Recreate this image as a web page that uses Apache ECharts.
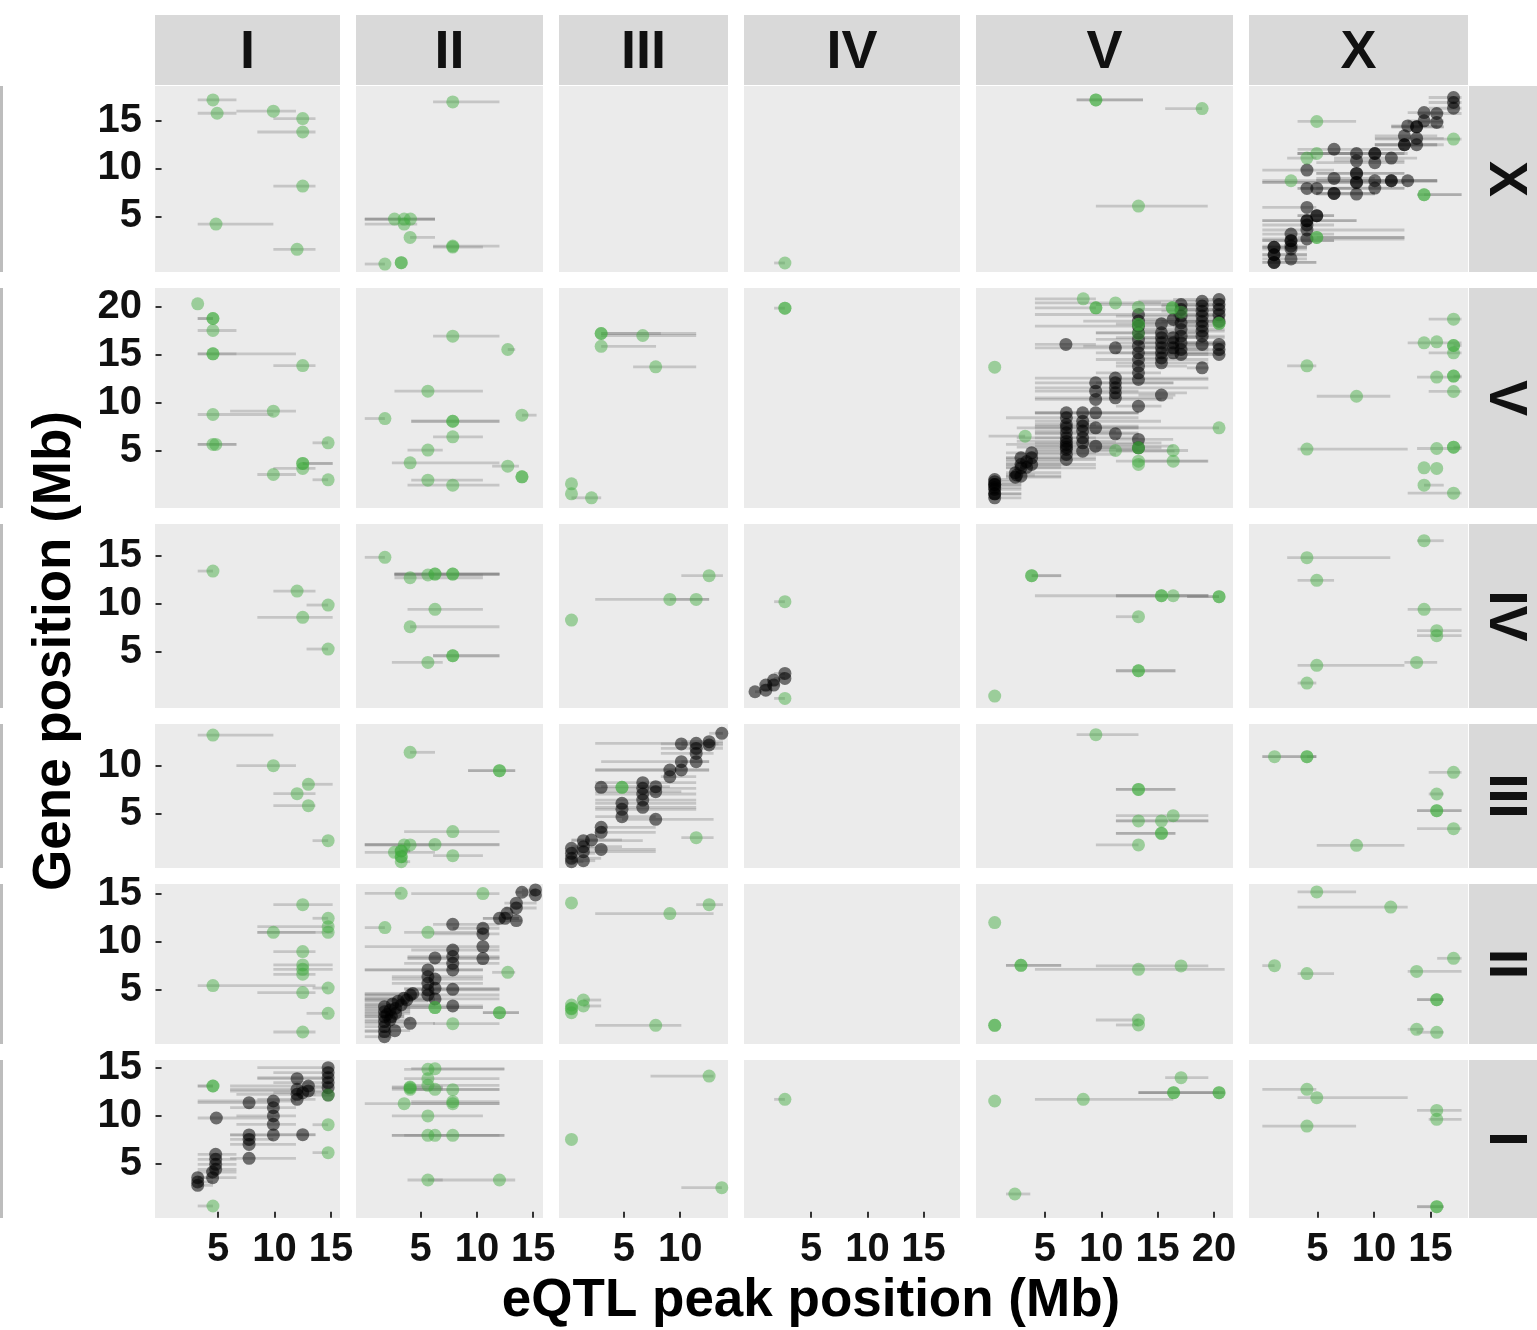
<!DOCTYPE html>
<html>
<head>
<meta charset="utf-8">
<script src="https://cdn.jsdelivr.net/npm/echarts@6/dist/echarts.min.js"></script>
<style>
html,body{margin:0;padding:0;background:#fff;}
#chart{width:1537px;height:1330px;}
</style>
</head>
<body>
<div id="chart"></div>
<script>
// ---------- categories & ticks ----------
const colCats = ['I','II','III','IV','V','X'];   // eQTL peak chromosome (columns)
const rowCats = ['X','V','IV','III','II','I'];   // gene chromosome (rows)
const colTicks = [[5,10,15],[5,10,15],[5,10],[5,10,15],[5,10,15,20],[5,10,15]];
const rowTicks = [[5,10,15],[5,10,15,20],[5,10,15],[5,10],[5,10,15],[5,10,15]];
const colRange = [[-0.58,15.8],[-0.75,15.87],[-0.78,14.25],[-0.98,18.24],[-1.12,21.69],[-1.06,18.33]];
const rowRange = [[-0.8,18.6],[-0.94,21.98],[-0.86,18.3],[-0.66,14.34],[-0.66,16.0],[-0.66,15.8]];

// ---------- data: [peak Mb, gene Mb, CI low, CI high] ----------
// trans (green)
const g_X_I = [[4.55,17.15,3.2,6.63],[4.92,15.76,3.2,6.63],[9.9,15.97,6.63,11.9],[12.5,15.2,9.9,13.63],[12.5,13.8,8.48,13.63],[12.5,8.16,9.9,13.63],[4.82,4.2,3.2,9.9],[12.0,1.56,9.9,13.63]];
const g_X_II = [[7.85,16.94,6.1,12.0],[2.67,4.72,0.03,6.27],[3.53,4.72,0.03,6.27],[4.09,4.72,0.03,6.27],[3.53,4.2,0.03,4.69],[4.06,2.81,4.06,6.27],[7.85,1.9,6.1,12.0],[7.85,1.8,6.1,10.53],[1.82,0.03,0.03,1.82],[3.27,0.17,3.27,3.27],[3.27,0.17,3.27,3.27]];
const g_X_IV = [[2.66,0.14,1.7,2.66]];
const g_X_V = [[9.52,17.15,7.81,13.7],[9.52,17.15,7.81,13.7],[18.95,16.25,15.67,18.95],[13.3,6.08,9.52,19.45]];
const g_X_X = [[4.94,14.9,3.24,8.42],[17.05,13.06,10.1,17.76],[4.94,11.56,3.24,8.42],[4.07,11.08,2.32,4.9],[2.66,8.72,0.12,4.9],[14.44,7.26,13.82,17.76],[14.44,7.26,14.44,17.76],[4.94,2.81,3.24,12.7],[4.94,2.81,4.94,12.7]];

const g_V_I = [[3.2,20.33,3.2,3.2],[4.55,18.8,3.2,4.55],[4.55,18.8,3.2,4.55],[4.55,17.55,3.2,6.63],[4.55,15.12,3.2,11.9],[4.55,15.12,3.2,6.63],[12.5,13.9,9.9,13.63],[9.9,9.15,6.07,11.9],[4.55,8.8,3.2,9.9],[4.55,5.68,3.2,6.63],[4.8,5.68,3.2,6.63],[14.75,5.85,13.37,14.75],[12.5,3.7,12.5,15.15],[12.5,3.7,12.5,15.15],[12.5,3.18,9.9,13.63],[9.9,2.55,8.48,11.9],[14.75,2.0,13.37,14.75]];
const g_V_II = [[7.85,16.96,6.1,12.0],[12.74,15.57,12.74,13.4],[5.64,11.23,2.67,10.53],[1.82,8.38,0.03,1.82],[7.85,8.1,4.16,12.0],[7.85,8.1,4.16,12.0],[14.0,8.73,14.0,15.3],[7.85,6.47,6.1,10.53],[5.64,5.09,3.83,6.96],[4.06,3.77,2.44,12.0],[12.74,3.42,11.35,13.73],[14.0,2.31,14.0,14.0],[14.0,2.31,14.0,14.0],[5.64,1.96,4.16,10.53],[7.85,1.44,3.83,12.0]];
const g_V_III = [[2.97,17.24,2.97,8.28],[2.97,17.24,2.97,11.42],[6.67,17.03,2.97,11.42],[2.97,15.9,2.97,7.85],[7.82,13.77,5.81,11.42],[0.33,1.58,0.33,0.33],[0.33,0.54,0.33,0.33],[2.11,0.12,0.33,2.97]];
const g_V_IV = [[2.66,19.88,1.7,2.66],[2.66,19.88,2.66,2.66]];
const g_V_V = [[8.4,20.85,4.11,9.52],[11.26,20.43,4.11,15.3],[9.52,19.91,4.11,9.52],[9.52,19.91,9.52,9.52],[13.3,19.98,13.3,13.3],[16.3,19.91,16.3,16.3],[16.3,19.91,16.3,16.3],[17.08,19.46,17.08,17.08],[13.3,18.2,13.3,13.3],[13.3,18.2,13.3,13.3],[13.3,17.2,13.3,13.3],[20.45,18.3,20.45,20.45],[20.45,18.3,20.45,20.45],[0.54,13.73,0.54,0.54],[20.45,7.41,11.3,20.45],[3.24,6.54,0.0,3.24],[11.26,5.05,11.26,11.26],[13.3,5.33,13.3,13.3],[13.3,5.33,13.3,13.3],[16.38,5.05,11.3,17.7],[13.3,3.94,11.3,19.45],[13.3,3.6,13.3,13.3],[16.38,3.94,13.3,19.5]];
const g_V_X = [[17.05,18.73,14.85,17.76],[14.44,16.27,12.99,17.76],[15.56,16.37,15.56,15.56],[17.05,15.99,17.05,17.05],[17.05,15.99,17.05,17.76],[17.05,15.23,14.85,17.76],[4.07,13.87,2.32,4.9],[15.56,12.7,13.82,17.76],[17.05,12.8,17.05,17.05],[17.05,12.8,17.05,17.76],[17.05,11.2,14.85,17.76],[8.46,10.7,4.94,11.45],[4.07,5.2,3.24,12.99],[15.56,5.26,13.82,17.76],[17.05,5.4,17.05,17.05],[17.05,5.4,17.05,17.76],[14.44,3.25,14.44,14.44],[15.56,3.18,15.56,15.56],[14.44,1.44,14.44,16.18],[17.05,0.6,12.99,17.76]];

const g_IV_I = [[4.55,13.4,3.2,4.55],[12.0,11.32,9.9,13.63],[14.75,9.86,12.84,14.75],[12.5,8.58,8.48,15.15],[14.75,5.28,12.84,14.75]];
const g_IV_II = [[1.82,14.83,0.03,1.82],[4.06,12.7,2.67,10.53],[5.64,12.99,2.67,10.53],[6.27,13.09,2.67,12.0],[6.27,13.09,2.67,12.0],[7.85,13.09,2.67,12.0],[7.85,13.09,2.67,12.0],[6.27,9.41,3.83,10.53],[4.06,7.6,4.06,12.0],[7.85,4.58,6.1,12.0],[7.85,4.58,6.1,12.0],[5.64,3.89,2.44,6.96]];
const g_IV_III = [[12.57,12.92,10.1,13.8],[9.08,10.45,2.44,12.57],[11.42,10.45,9.08,12.57],[0.33,8.3,0.33,0.33]];
const g_IV_IV = [[2.66,10.21,1.7,2.66],[2.66,0.14,1.7,2.66]];
const g_IV_V = [[3.82,12.92,3.82,6.44],[3.82,12.92,3.82,6.44],[15.34,10.83,4.11,19.5],[15.34,10.83,11.3,19.5],[16.38,10.83,11.3,19.5],[20.45,10.73,17.62,20.45],[20.45,10.73,17.62,20.45],[13.3,8.65,11.3,13.3],[13.3,3.02,11.3,16.58],[13.3,3.02,11.3,16.58],[0.54,0.38,0.54,0.54]];
const g_IV_X = [[14.44,16.56,13.82,16.18],[4.07,14.79,2.32,11.45],[4.94,12.43,3.24,6.47],[14.44,9.41,12.99,17.76],[15.56,7.19,13.82,17.76],[15.56,6.67,13.82,17.76],[13.78,3.89,12.7,15.6],[4.94,3.58,3.24,12.7],[4.07,1.74,3.24,4.9]];

const g_III_I = [[4.55,13.19,3.2,9.9],[9.9,10.0,6.63,11.9],[13.0,8.06,12.5,15.15],[12.0,7.08,9.9,13.63],[13.0,5.83,9.9,13.63],[14.75,2.19,13.37,14.75]];
const g_III_II = [[4.06,11.39,4.06,6.27],[12.0,9.48,9.21,13.4],[12.0,9.48,9.21,13.4],[7.85,3.13,3.53,12.0],[3.53,1.74,0.03,12.0],[4.06,1.74,0.03,6.27],[6.27,1.8,0.03,12.0],[2.67,0.97,0.03,6.27],[3.27,1.11,3.27,4.06],[3.27,1.11,3.27,4.06],[3.27,0.52,3.27,3.27],[3.27,0.52,3.27,3.27],[3.27,0.0,3.27,4.06],[7.85,0.62,6.1,10.53]];
const g_III_III = [[4.82,7.74,4.82,4.82],[4.82,7.74,4.82,4.82],[11.42,2.5,10.1,12.97]];
const g_III_V = [[9.52,13.23,7.81,13.3],[13.3,7.53,11.3,16.58],[13.3,7.53,11.3,16.58],[16.38,4.79,11.3,19.5],[13.3,4.24,11.3,19.5],[15.34,4.24,11.3,19.5],[15.34,2.95,11.3,16.58],[15.34,2.95,11.3,16.58],[13.3,1.74,9.52,13.3]];
const g_III_X = [[1.2,10.94,0.12,4.9],[4.07,10.94,0.12,4.9],[4.07,10.94,4.07,4.9],[17.05,9.31,14.85,17.76],[15.56,7.05,14.85,16.18],[15.56,5.31,13.82,17.76],[15.56,5.31,13.82,17.76],[17.05,3.44,13.82,17.76],[8.46,1.7,4.94,12.7]];

const g_II_I = [[12.5,13.85,9.9,15.15],[14.75,12.43,13.37,14.75],[14.75,11.56,8.48,15.15],[14.75,10.97,8.48,15.15],[9.9,10.97,8.48,13.63],[12.5,8.96,9.9,13.63],[12.5,7.57,9.9,15.15],[12.5,7.12,9.9,15.15],[12.5,6.6,9.9,13.63],[4.55,5.42,3.2,13.63],[14.75,5.17,13.37,14.75],[12.5,4.69,8.48,13.63],[14.75,2.53,12.84,14.75],[12.5,0.59,9.9,13.63]];
const g_II_II = [[3.27,15.03,0.03,3.27],[10.53,15.0,4.16,12.0],[1.82,11.46,0.03,1.82],[5.64,10.97,3.53,10.53],[12.74,6.8,11.35,13.4],[6.27,3.13,3.53,10.53],[6.27,3.13,3.53,10.53],[12.0,2.6,10.53,13.73],[12.0,2.6,10.53,13.73],[7.85,1.46,6.1,12.0]];
const g_II_III = [[0.33,14.03,0.33,0.33],[12.57,13.85,11.42,13.8],[9.08,12.92,2.44,12.97],[1.39,3.92,1.39,2.97],[1.39,3.3,1.39,2.97],[0.33,3.4,0.33,0.33],[0.33,3.06,0.33,0.33],[0.33,2.6,0.33,0.33],[0.33,3.0,0.33,0.33],[7.82,1.28,2.44,10.1]];
const g_II_V = [[0.54,11.98,0.54,0.54],[2.87,7.53,1.54,6.44],[2.87,7.53,1.54,6.44],[13.3,7.12,4.11,20.95],[17.08,7.47,9.52,19.5],[13.3,1.84,9.52,13.3],[13.3,1.32,11.3,13.3],[0.54,1.28,0.54,0.54],[0.54,1.28,0.54,0.54]];
const g_II_X = [[4.94,15.17,3.24,8.42],[11.49,13.6,3.24,12.99],[17.05,8.26,15.6,17.76],[1.2,7.5,0.12,1.2],[4.07,6.67,3.24,6.47],[13.78,6.9,12.99,17.76],[15.56,3.96,13.82,16.18],[15.56,3.96,13.82,16.18],[13.78,0.87,12.99,14.44],[15.56,0.56,13.78,16.18]];

const g_I_I = [[4.55,13.09,3.2,4.55],[4.55,13.09,3.2,4.55],[14.75,9.06,13.37,14.75],[14.75,6.15,13.37,14.75],[4.55,0.59,3.2,4.55],[14.75,12.15,14.75,14.75]];
const g_I_II = [[5.64,14.83,3.53,12.44],[6.27,14.9,4.16,12.44],[5.64,13.85,3.53,12.0],[5.64,13.16,3.53,12.0],[4.06,12.99,2.44,6.96],[4.06,12.74,2.44,6.96],[4.06,12.9,2.44,6.96],[6.27,12.74,3.53,12.0],[7.85,12.71,3.53,12.0],[3.53,11.25,0.03,12.0],[7.85,11.46,4.16,12.0],[7.85,11.25,4.16,12.0],[5.64,9.97,2.44,10.53],[5.64,7.95,2.44,12.44],[6.27,7.95,3.53,12.44],[7.85,7.95,2.44,12.0],[5.64,3.3,3.83,6.96],[12.0,3.3,5.64,13.4]];
const g_I_III = [[12.57,14.13,7.36,12.97],[0.33,7.53,0.33,0.33],[13.7,2.5,10.1,13.7]];
const g_I_IV = [[2.66,11.7,1.7,2.66]];
const g_I_V = [[17.08,13.96,15.67,19.5],[16.42,12.4,13.3,20.95],[16.42,12.4,13.3,20.95],[20.45,12.4,13.3,20.45],[20.45,12.4,20.45,20.45],[8.4,11.7,4.11,16.38],[0.54,11.53,0.54,0.54],[2.33,1.84,1.54,3.7]];
const g_I_X = [[4.07,12.74,0.12,4.9],[4.94,11.88,3.24,12.99],[15.56,10.55,13.82,17.76],[15.56,9.62,14.85,17.76],[4.07,8.92,0.12,8.42],[15.56,0.52,13.82,16.18],[15.56,0.52,13.82,16.18]];

// cis (black)
const k_X_X = [[17.05,17.4,14.85,17.76],[17.05,16.88,14.85,17.76],[17.05,16.28,14.85,17.76],[15.56,15.73,13.82,17.76],[14.44,15.83,12.99,16.18],[15.56,14.8,12.99,16.18],[14.44,14.97,12.99,16.18],[13.78,14.34,11.54,16.18],[13.78,14.34,11.54,16.18],[12.99,14.44,11.54,15.6],[12.7,13.4,10.08,15.6],[12.7,12.47,10.08,15.6],[12.7,12.47,10.08,15.6],[13.78,13.13,10.08,16.18],[13.78,12.47,10.08,16.18],[6.47,12.0,3.24,12.7],[8.46,11.56,4.07,12.99],[10.08,11.56,3.24,12.7],[10.08,11.56,3.24,12.7],[11.54,11.08,6.47,13.82],[8.46,10.8,6.47,12.7],[10.08,10.6,4.9,12.7],[4.07,9.83,0.12,6.47],[8.46,9.48,4.9,12.7],[8.46,9.48,4.9,12.7],[6.47,8.96,4.9,10.08],[8.46,8.54,0.12,12.7],[8.46,8.54,0.12,12.7],[10.08,8.72,4.9,15.6],[11.54,8.72,4.9,15.6],[11.54,8.72,4.9,15.6],[12.99,8.72,8.46,15.6],[4.07,7.92,3.24,8.46],[4.94,7.92,3.24,12.7],[10.08,7.95,4.9,12.7],[6.47,7.4,4.9,10.08],[6.47,7.4,4.9,10.08],[8.46,7.33,4.9,10.08],[4.07,5.94,0.12,4.9],[4.94,5.07,3.24,6.47],[4.94,5.07,3.24,6.47],[4.07,4.55,0.12,8.46],[4.07,4.55,0.12,8.46],[4.07,4.1,0.12,6.47],[4.07,3.58,0.12,12.7],[2.66,3.16,0.12,6.47],[2.66,2.47,0.12,6.47],[2.66,2.47,0.12,6.47],[4.07,2.64,0.12,12.7],[2.66,1.6,0.12,4.07],[2.66,1.9,0.12,4.07],[1.16,1.77,0.12,4.07],[1.16,1.77,0.12,4.07],[1.16,1.0,0.12,4.07],[1.16,1.0,0.12,4.07],[1.16,0.2,0.12,4.9],[1.16,0.2,0.12,4.9],[2.66,0.56,0.12,4.07]];
const k_V_V = [[0.54,2.03,0.0,2.9],[0.54,1.51,0.0,2.9],[0.54,1.51,0.0,2.9],[0.54,0.99,0.0,2.9],[0.54,0.54,0.0,2.9],[0.54,0.54,0.0,2.9],[0.54,0.12,0.0,2.9],[0.54,1.8,0.0,2.9],[0.54,1.2,0.0,2.9],
 [2.37,2.73,1.54,6.44],[2.37,2.27,1.54,6.44],[2.5,2.5,1.54,4.1],[2.87,4.29,1.54,9.52],[2.87,3.59,1.54,6.44],[2.87,3.25,1.54,9.52],[2.87,2.38,1.54,6.44],[3.37,3.9,1.54,6.44],[3.37,3.3,1.54,6.44],[3.82,4.81,1.54,9.52],[3.82,4.29,1.54,6.44],[3.82,3.59,1.54,9.52],
 [6.9,8.98,4.11,13.3],[6.9,8.46,1.54,13.3],[6.9,7.76,4.11,9.52],[6.9,7.41,2.5,13.3],[6.9,6.89,4.11,13.3],[6.9,6.37,2.5,9.52],[6.9,5.68,1.54,13.3],[6.9,5.16,4.11,13.3],[6.9,4.64,2.5,11.3],[6.9,4.11,1.54,9.52],[6.9,6.0,2.5,11.3],[6.9,5.4,2.5,11.3],
 [8.35,8.98,4.11,13.3],[8.35,8.1,4.11,15.3],[8.35,7.59,4.11,13.3],[8.35,7.07,4.11,11.3],[8.35,6.37,4.11,13.3],[8.35,5.85,4.11,15.34],[8.35,4.98,4.11,16.5],
 [9.5,12.1,4.11,16.4],[9.5,11.23,4.11,13.3],[9.5,10.37,4.11,15.34],[9.5,8.98,4.11,13.3],[9.5,7.41,4.11,13.3],[9.5,5.5,4.11,16.4],
 [11.25,12.6,4.11,19.5],[11.25,12.1,9.52,16.4],[11.25,11.58,4.11,19.5],[11.25,11.06,9.52,17.6],[11.25,10.54,4.11,16.38],[11.25,6.79,4.11,13.3],
 [13.3,19.22,4.11,20.95],[13.3,18.53,8.4,20.95],[13.3,18.0,4.11,19.5],[13.3,17.31,9.52,19.5],[13.3,16.62,9.52,17.6],[13.3,15.92,8.4,19.5],[13.3,15.23,9.52,20.95],[13.3,14.53,9.52,19.5],[13.3,13.84,11.3,17.6],[13.3,13.14,9.52,15.3],[13.3,12.45,11.3,19.5],[13.3,9.67,11.3,15.34],[13.3,6.2,11.3,16.38],[13.3,5.33,9.52,15.34],
 [15.34,18.25,11.3,20.95],[15.34,17.31,9.52,19.5],[15.34,16.8,13.3,20.95],[15.34,16.27,11.3,19.5],[15.34,15.75,13.3,17.62],[15.34,15.23,11.3,19.5],[15.34,14.7,13.3,17.6],[15.34,14.18,11.3,19.5],[15.34,10.82,13.3,16.58],
 [16.38,18.7,13.3,20.95],[16.38,16.8,11.3,19.5],[16.38,16.27,13.3,20.95],[16.38,15.75,13.3,19.5],[16.38,15.23,13.3,17.62],
 [17.08,20.26,9.52,20.95],[17.08,19.74,13.3,20.95],[17.08,19.05,11.3,20.95],[17.08,18.35,13.3,19.5],[17.08,17.66,13.3,20.95],[17.08,16.96,15.34,19.5],[17.08,16.27,13.3,20.95],[17.08,15.57,15.34,19.5],[17.08,15.05,13.3,19.5],
 [18.95,20.6,13.3,20.95],[18.95,20.1,15.34,20.95],[18.95,19.57,15.34,20.95],[18.95,19.05,16.38,20.95],[18.95,18.5,15.34,20.95],[18.95,18.0,16.38,20.95],[18.95,17.48,13.3,20.95],[18.95,16.96,16.38,20.95],[18.95,16.1,15.34,20.95],[18.95,13.66,17.6,19.5],
 [20.45,20.78,16.38,20.95],[20.45,20.26,15.34,20.95],[20.45,19.74,17.62,20.95],[20.45,19.2,16.38,20.95],[20.45,18.5,17.6,20.95],[20.45,16.1,16.38,20.95],[20.45,15.57,15.34,20.95],[20.45,15.05,17.6,20.95],
 [6.86,16.1,4.11,9.52],[11.25,15.75,4.11,13.3]];
const k_IV_IV = [[0.0,0.83,0.0,0.5],[0.96,1.53,0.5,1.5],[0.96,1.0,0.5,1.5],[1.66,2.05,1.2,2.2],[1.66,1.53,1.2,2.2],[2.66,2.74,1.7,2.66],[2.66,2.22,1.7,2.66]];
const k_III_III = [[13.7,13.37,12.57,13.8],[12.57,12.5,10.1,13.8],[12.57,12.15,10.1,13.8],[11.42,12.33,2.44,13.8],[11.42,11.8,8.28,13.8],[11.42,11.28,8.28,12.97],[10.1,12.26,8.28,13.4],[11.42,10.42,10.1,12.57],[10.1,10.42,2.97,12.57],[10.1,9.55,2.44,12.57],[9.08,9.55,2.44,12.57],[9.08,8.85,8.28,11.42],[7.82,7.81,2.97,9.08],[7.82,7.29,2.44,10.1],[6.67,8.23,2.44,11.42],[6.67,7.64,2.44,11.42],[6.67,7.05,2.44,11.42],[6.67,6.42,2.44,11.42],[6.67,5.66,2.44,11.42],[2.97,7.74,2.97,2.97],[4.82,6.08,2.44,11.42],[4.82,5.45,2.44,11.42],[4.82,4.69,2.44,7.82],[7.82,4.41,4.82,12.97],[2.97,3.58,2.97,7.82],[2.97,3.06,2.44,7.82],[2.11,2.26,0.33,4.82],[1.39,2.19,0.33,6.67],[1.39,1.56,0.33,4.82],[1.39,1.04,0.33,7.82],[1.39,0.1,0.33,2.44],[2.97,1.28,2.44,7.82],[0.33,1.39,0.33,2.44],[0.33,0.87,0.33,2.44],[0.33,0.35,0.33,2.97],[0.33,0.0,0.33,1.39]];
const k_II_II = [[15.2,15.38,14.0,15.3],[15.2,14.86,14.0,15.3],[14.0,15.14,13.4,15.3],[13.5,14.0,12.44,15.3],[13.5,13.5,12.44,15.3],[12.67,12.95,12.0,13.4],[12.0,12.43,10.53,13.73],[12.5,12.43,10.53,13.73],[13.5,12.19,12.0,14.0],[7.85,11.8,6.1,12.0],[10.53,11.39,7.85,12.0],[10.53,10.8,6.1,12.0],[10.53,9.48,0.03,12.0],[10.53,8.23,3.83,12.0],[7.85,9.13,4.16,12.0],[7.85,8.44,3.83,12.0],[7.85,7.74,3.53,12.0],[7.85,7.05,0.03,10.53],[6.27,8.3,3.83,12.0],[5.64,7.05,0.03,10.53],[5.64,6.35,2.44,10.53],[5.64,5.66,2.44,10.53],[5.64,4.97,3.83,12.0],[5.64,4.44,0.03,12.0],[6.27,6.11,2.44,10.53],[6.27,5.14,3.53,12.0],[7.85,5.03,3.53,12.0],[7.85,3.3,3.83,10.53],[6.27,4.03,0.03,12.0],[4.09,4.44,0.03,6.27],[3.76,3.92,0.03,6.27],[3.27,3.4,0.03,6.27],[2.77,3.06,0.03,4.06],[4.06,1.49,0.03,6.27],[2.7,0.73,0.03,4.06],[1.78,3.23,0.03,4.06],[1.78,2.71,0.03,4.06],[1.78,2.19,0.03,3.53],[1.78,1.67,0.03,3.53],[1.78,1.15,0.03,3.53],[1.78,0.63,0.03,2.44],[1.78,0.1,0.03,2.44],[2.28,2.88,0.03,4.06],[2.28,1.84,0.03,4.06],[2.77,2.53,0.03,4.06],[2.5,3.5,0.03,4.06],[3.0,3.8,0.03,5.64],[3.5,4.1,0.03,6.27],[4.3,4.6,0.03,6.27],[2.0,2.4,0.03,3.53],[2.4,2.2,0.03,3.53]];
const k_I_I = [[14.75,15.0,8.48,15.15],[14.75,14.48,9.9,15.15],[14.75,13.96,8.48,15.15],[14.75,13.44,9.9,15.15],[14.75,12.92,11.9,15.15],[14.75,12.15,11.9,15.15],[12.0,13.85,8.48,14.75],[13.0,13.09,6.07,14.75],[13.0,12.57,6.07,14.75],[12.0,12.74,6.07,13.63],[12.0,12.22,6.63,13.63],[12.0,11.7,8.48,13.63],[12.5,12.4,9.9,14.75],[9.9,11.53,3.2,11.9],[9.9,10.83,6.07,11.9],[9.9,9.97,6.63,11.9],[9.9,9.1,6.63,11.9],[9.9,7.99,6.07,13.63],[7.75,11.35,3.2,9.9],[4.85,9.76,3.2,9.9],[7.75,7.99,6.07,9.9],[7.75,7.53,6.07,9.9],[7.75,7.01,6.07,11.9],[12.5,8.02,9.9,13.63],[7.75,5.56,6.07,11.9],[4.79,5.97,3.2,6.63],[4.79,5.45,3.2,6.63],[4.79,4.93,3.2,6.63],[4.79,4.41,3.2,6.63],[4.52,4.13,3.2,6.63],[4.52,3.54,3.2,6.63],[3.2,3.54,3.2,4.55],[3.2,3.09,3.2,4.55],[3.2,2.74,3.2,4.55]];

const greenSets = {X_I:g_X_I,X_II:g_X_II,X_IV:g_X_IV,X_V:g_X_V,X_X:g_X_X,
  V_I:g_V_I,V_II:g_V_II,V_III:g_V_III,V_IV:g_V_IV,V_V:g_V_V,V_X:g_V_X,
  IV_I:g_IV_I,IV_II:g_IV_II,IV_III:g_IV_III,IV_IV:g_IV_IV,IV_V:g_IV_V,IV_X:g_IV_X,
  III_I:g_III_I,III_II:g_III_II,III_III:g_III_III,III_V:g_III_V,III_X:g_III_X,
  II_I:g_II_I,II_II:g_II_II,II_III:g_II_III,II_V:g_II_V,II_X:g_II_X,
  I_I:g_I_I,I_II:g_I_II,I_III:g_I_III,I_IV:g_I_IV,I_V:g_I_V,I_X:g_I_X};
const blackSets = {X_X:k_X_X,V_V:k_V_V,IV_IV:k_IV_IV,III_III:k_III_III,II_II:k_II_II,I_I:k_I_I};

// ---------- layout ----------
const colPx = [[155,340],[356,543],[559,728],[744,960],[976,1233],[1249,1468]];
const rowPx = [[86,272],[288,508],[524,708],[724,868],[884,1044],[1060,1218]];
const FONT = '"Liberation Sans", Arial, sans-serif';

const grids = [], xAxes = [], yAxes = [], series = [], graphics = [];
let gi = 0;
for (let r = 0; r < rowCats.length; r++) {
  for (let c = 0; c < colCats.length; c++) {
    grids.push({left: colPx[c][0], top: rowPx[r][0], width: colPx[c][1]-colPx[c][0], height: rowPx[r][1]-rowPx[r][0],
      show: true, backgroundColor: '#EBEBEB', borderWidth: 0, containLabel: false});
    const bottom = r === rowCats.length-1, left = c === 0;
    xAxes.push({gridIndex: gi, type: 'value', min: colRange[c][0], max: colRange[c][1],
      axisLine: {show: false}, splitLine: {show: false},
      axisTick: {show: bottom, length: 6, lineStyle: {color: '#333', width: 2}, customValues: colTicks[c]},
      axisLabel: {show: bottom, customValues: colTicks[c], fontSize: 40, fontWeight: 'bold', color: '#111', fontFamily: FONT, margin: 12}});
    yAxes.push({gridIndex: gi, type: 'value', min: rowRange[r][0], max: rowRange[r][1],
      axisLine: {show: false}, splitLine: {show: false},
      axisTick: {show: left, length: 6, lineStyle: {color: '#333', width: 2}, customValues: rowTicks[r]},
      axisLabel: {show: left, customValues: rowTicks[r], fontSize: 40, fontWeight: 'bold', color: '#111', fontFamily: FONT, margin: 13}});
    const key = rowCats[r] + '_' + colCats[c];
    const g = greenSets[key] || [], k = blackSets[key] || [];
    const all = k.concat(g);
    if (all.length) {
      series.push({type: 'custom', xAxisIndex: gi, yAxisIndex: gi, data: all, encode: {x: 0, y: 1}, z: 1, silent: true,
        renderItem: function (params, api) {
          const y = api.value(1);
          const p1 = api.coord([api.value(2), y]);
          const p2 = api.coord([api.value(3), y]);
          return {type: 'line', shape: {x1: p1[0], y1: p1[1], x2: p2[0], y2: p2[1]},
            style: {stroke: 'rgba(120,120,120,0.33)', lineWidth: 2.8}};
        }});
    }
    if (k.length) series.push({type: 'scatter', xAxisIndex: gi, yAxisIndex: gi, data: k, z: 2, symbolSize: 13,
      itemStyle: {color: 'rgba(0,0,0,0.68)'}, silent: true});
    if (g.length) series.push({type: 'scatter', xAxisIndex: gi, yAxisIndex: gi, data: g, z: 3, symbolSize: 13,
      itemStyle: {color: 'rgba(62,170,60,0.58)'}, silent: true});
    gi++;
  }
}

// strips
for (let c = 0; c < colCats.length; c++) {
  graphics.push({type: 'rect', shape: {x: colPx[c][0], y: 15, width: colPx[c][1]-colPx[c][0], height: 70}, style: {fill: '#D9D9D9'}});
  graphics.push({type: 'text', x: (colPx[c][0]+colPx[c][1])/2, y: 53,
    style: {text: colCats[c], font: 'bold 54px ' + FONT, fill: '#111', textAlign: 'center', textVerticalAlign: 'middle', align: 'center', verticalAlign: 'middle'}});
}
for (let r = 0; r < rowCats.length; r++) {
  graphics.push({type: 'rect', shape: {x: 1469, y: rowPx[r][0], width: 68, height: rowPx[r][1]-rowPx[r][0]}, style: {fill: '#D9D9D9'}});
  graphics.push({type: 'rect', shape: {x: 0, y: rowPx[r][0], width: 3, height: rowPx[r][1]-rowPx[r][0]}, style: {fill: '#BDBDBD'}});
  graphics.push({type: 'text', x: 1505, y: (rowPx[r][0]+rowPx[r][1])/2, rotation: -Math.PI/2,
    style: {text: rowCats[r], font: 'bold 54px ' + FONT, fill: '#111', textAlign: 'center', textVerticalAlign: 'middle', align: 'center', verticalAlign: 'middle'}});
}
// axis titles
graphics.push({type: 'text', x: 811, y: 1301,
  style: {text: 'eQTL peak position (Mb)', font: 'bold 53px ' + FONT, fill: '#000', textAlign: 'center', textVerticalAlign: 'middle', align: 'center', verticalAlign: 'middle'}});
graphics.push({type: 'text', x: 55, y: 651, rotation: Math.PI/2,
  style: {text: 'Gene position (Mb)', font: 'bold 53px ' + FONT, fill: '#000', textAlign: 'center', textVerticalAlign: 'middle', align: 'center', verticalAlign: 'middle'}});

const chart = echarts.init(document.getElementById('chart'), null, {renderer: 'canvas'});
chart.setOption({
  animation: false,
  backgroundColor: '#ffffff',
  grid: grids, xAxis: xAxes, yAxis: yAxes, series: series,
  graphic: {elements: graphics}
});
</script>
</body>
</html>
